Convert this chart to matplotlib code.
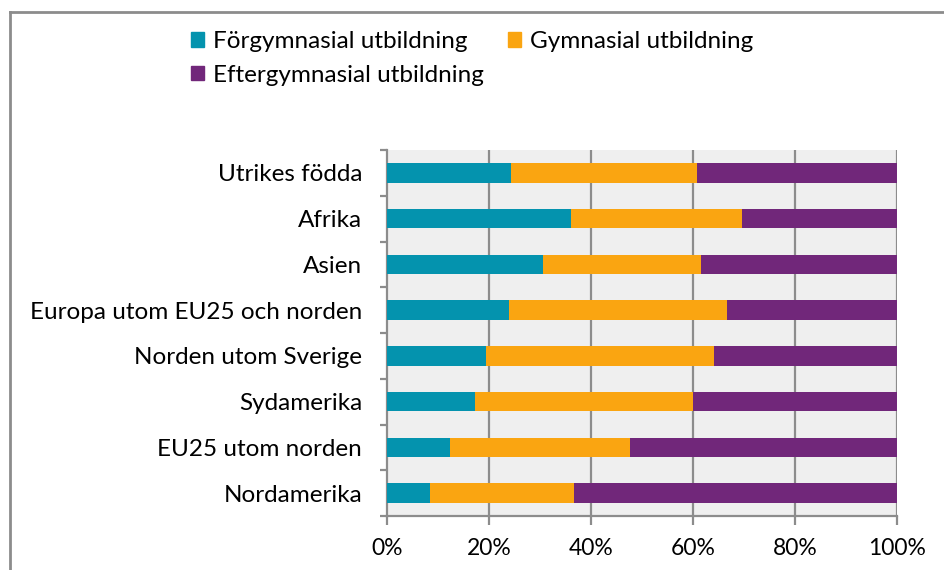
import matplotlib
matplotlib.use("Agg")
import matplotlib.pyplot as plt
from matplotlib.patches import Patch
from matplotlib.lines import Line2D
import numpy as np

# data (percent of each group)
categories = ["Utrikes födda", "Afrika", "Asien", "Europa utom EU25 och norden",
              "Norden utom Sverige", "Sydamerika", "EU25 utom norden", "Nordamerika"]
forgymn = [24.3, 36.0, 30.5, 23.9, 19.4, 17.3, 12.3, 8.5]
gymn = [36.5, 33.7, 31.0, 42.8, 44.8, 42.7, 35.4, 28.1]
efter = [39.2, 30.3, 38.5, 33.3, 35.8, 40.0, 52.3, 63.4]
series_names = ["Förgymnasial utbildning", "Gymnasial utbildning", "Eftergymnasial utbildning"]
colors = ["#0493AE", "#FAA511", "#71277A"]
xticks = [0, 20, 40, 60, 80, 100]

plt.rcParams['font.family'] = ['Lato', 'DejaVu Sans']
grid_col = "#8C8C8C"

fig = plt.figure(figsize=(9.44, 5.70), dpi=100)
ax = fig.add_axes([387/944, 1-516/570, 510/944, 366/570])
ax.set_facecolor("#EFEFEF")

y = np.arange(len(categories))
left = np.zeros(len(categories))
for vals, col, name in zip([forgymn, gymn, efter], colors, series_names):
    ax.barh(y, vals, left=left, height=0.43, color=col, label=name, zorder=3)
    left += np.array(vals)

ax.set_xlim(0, 100)
ax.set_ylim(len(categories) - 0.5, -0.5)
ax.set_xticks(xticks)
ax.set_xticklabels([f"{t}%" for t in xticks])
ax.set_yticks(y)
ax.set_yticklabels(categories)
ax.set_yticks(np.arange(len(categories) + 1) - 0.5, minor=True)

for t in xticks[1:]:
    ax.axvline(t, color=grid_col, lw=1.6, zorder=1)

for s in ["top", "right"]:
    ax.spines[s].set_visible(False)
for s in ["left", "bottom"]:
    ax.spines[s].set_color(grid_col)
    ax.spines[s].set_linewidth(1.6)

ax.tick_params(axis="y", which="major", length=0, pad=18, labelsize=17.5, colors="black")
ax.tick_params(axis="y", which="minor", length=5, width=1.6, color=grid_col)
ax.tick_params(axis="x", length=6.5, width=1.6, color=grid_col, pad=9, labelsize=16.5)

# legend, row-major order
handles = [Patch(color=c) for c in colors]
order = [0, 2, 1]
fig.legend([handles[i] for i in order], [series_names[i] for i in order],
           ncol=2, loc="upper left", bbox_to_anchor=(191/944, 1-31/570),
           frameon=False, fontsize=17.5, handlelength=0.55, handleheight=0.55,
           handletextpad=0.35, columnspacing=1.0, labelspacing=0.52,
           borderpad=0, borderaxespad=0)

# chart border (top and left visible)
fig.add_artist(Line2D([10/944, 1], [1-12/570, 1-12/570], color=grid_col, lw=2,
                      transform=fig.transFigure))
fig.add_artist(Line2D([10/944, 10/944], [0, 1-12/570], color=grid_col, lw=2,
                      transform=fig.transFigure))

fig.savefig("out.png", dpi=100)
